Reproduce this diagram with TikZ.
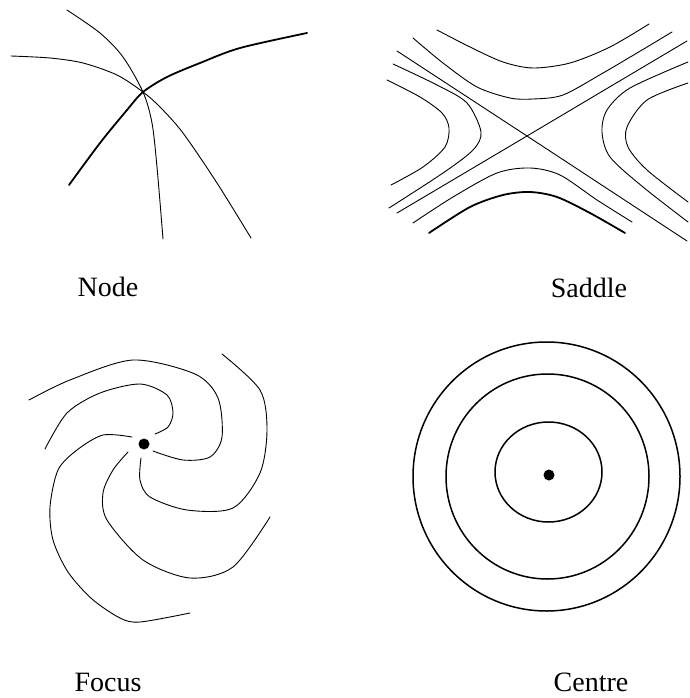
\documentclass[tikz,border=0pt]{standalone}
\usepackage{fontspec}
\setmainfont{Liberation Serif}
\usepackage{tikz}
\usetikzlibrary{positioning}

\begin{document}
\begin{tikzpicture}[x=1pt,y=-1pt,
  every node/.style={font=\fontsize{28}{30}\selectfont,inner sep=0pt},
  orbit/.style={line width=0.9pt,line cap=round},
  heavy/.style={line width=1.8pt,line cap=round},
  ring/.style={line width=1.5pt},
  fixpt/.style={circle,fill=black,minimum size=11pt,inner sep=0pt}
]
\useasboundingbox (0,0) rectangle (689,698);

% node
\draw[orbit] plot[smooth] coordinates {(67,10) (100,33) (123,57) (143,92) (152,123) (157,167) (163,239)};
\draw[orbit] plot[smooth] coordinates {(11,56) (50,58) (83,63) (117,75) (143,92) (160,107) (183,133) (217,183) (251,238)};
\draw[heavy] plot[smooth] coordinates {(69,185) (100,143) (127,110) (143,92) (167,77) (200,63) (240,48) (307,33)};
\node[anchor=base] (lnode) at (108,296) {Node};

% saddle
\coordinate (sc) at (527,136);
\draw[orbit] (397,51) -- (sc) -- (687,241);
\draw[orbit] (397,213) -- (sc) -- (687,41);
\draw[orbit] plot[smooth] coordinates {(437,30) (470,47) (503,62) (533,68) (570,63) (610,47) (649,24)};
\draw[orbit] plot[smooth] coordinates {(413,38) (443,63) (477,87) (510,98) (533,99) (563,95) (603,73) (637,53) (672,32)};
\draw[orbit] plot[smooth] coordinates {(387,80) (420,97) (442,113) (449,128) (445,147) (423,167) (391,185)};
\draw[orbit] plot[smooth] coordinates {(393,64) (437,85) (467,103) (481,132) (473,150) (443,173) (389,208)};
\draw[orbit] plot[smooth] coordinates {(413,223) (453,197) (497,173) (530,168) (560,175) (597,200) (632,222)};
\draw[heavy] plot[smooth] coordinates {(429,233) (470,207) (503,195) (530,192) (557,197) (590,213) (625,233)};
\draw[orbit] plot[smooth] coordinates {(688,62) (630,88) (607,110) (602,132) (610,157) (643,187) (688,222)};
\draw[orbit] plot[smooth] coordinates {(688,83) (647,100) (627,127) (628,147) (647,170) (688,202)};
\node[anchor=base] (lsaddle) at (589,297) {Saddle};

% focus
\node[fixpt] (fdot) at (144,444) {};
\draw[orbit] plot[smooth] coordinates {(29,400) (70,380) (133,360) (195,374) (218,398) (222,437) (210,457) (183,460) (153,451)};
\draw[orbit] plot[smooth] coordinates {(222,354) (260,390) (267,430) (260,473) (233,508) (187,510) (150,497) (140,480) (141,458)};
\draw[orbit] plot[smooth] coordinates {(270,517) (233,567) (190,578) (143,560) (107,520) (103,493) (113,470) (128,452)};
\draw[orbit] plot[smooth] coordinates {(45,449) (67,413) (100,393) (140,384) (167,395) (173,413) (168,427) (155,434)};
\draw[orbit] plot[smooth] coordinates {(132,437) (103,435) (77,450) (58,470) (50,507) (53,540) (68,572) (92,599) (120,618) (140,622) (190,613)};
\node[anchor=base] (lfocus) at (108,691) {Focus};

% centre
\node[fixpt] (cdot) at (549,475) {};
\draw[ring] (548.5,472) ellipse [x radius=53.5,y radius=50];
\draw[ring] (547.5,476.5) ellipse [x radius=101.5,y radius=102.5];
\draw[ring] (546.5,476.5) ellipse [x radius=133.5,y radius=134.5];
\node[anchor=base] (lcentre) at (591,691) {Centre};
\end{tikzpicture}
\end{document}
